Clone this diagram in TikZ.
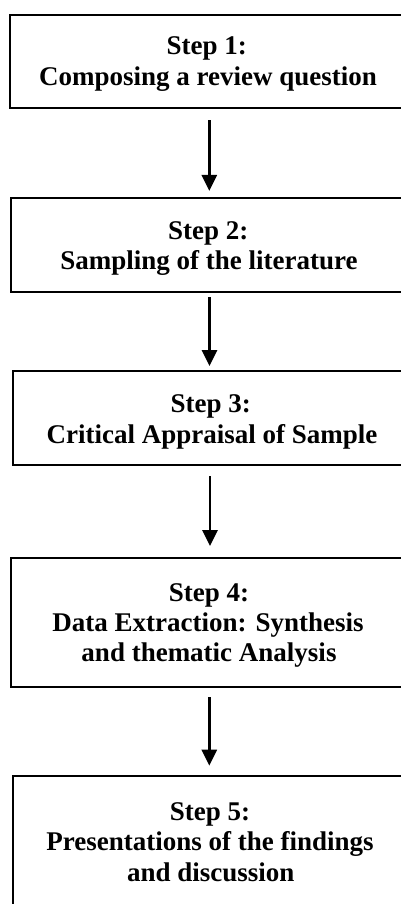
\documentclass[tikz,border=0pt]{standalone}
\usepackage{fontspec}
\setmainfont{Liberation Serif}
\usetikzlibrary{arrows.meta,calc}
\begin{document}
\begin{tikzpicture}[x=1pt,y=-1pt,
  stepbox/.style={draw=black,line width=2pt,rectangle,inner sep=0pt,outer sep=0pt},
  steptext/.style={anchor=base,inner sep=0pt,font=\fontsize{27}{31}\selectfont\bfseries},
  arr/.style={line width=2.8pt,-{Triangle[width=15pt,length=16pt]}}]
\useasboundingbox (0,0) rectangle (401,904);
\clip (0,0) rectangle (401,904);
% boxes (right edges lie outside the picture)
\node[stepbox,minimum width=428pt,minimum height=92.7pt] (s1) at (224,61.4) {};
\node[stepbox,minimum width=426.6pt,minimum height=94pt] (s2) at (224,245) {};
\node[stepbox,minimum width=421.4pt,minimum height=94pt] (s3) at (224,418) {};
\node[stepbox,minimum width=426pt,minimum height=129pt] (s4) at (224,622.5) {};
\node[stepbox,minimum width=422.6pt,minimum height=131pt] (s5) at (224,841.2) {};
% texts
\node[steptext] (t1a) at (206.8,54.3) {Step 1:};
\node[steptext] (t1b) at (208,86) {Composing a review question};
\node[steptext] (t2a) at (208.3,239.3) {Step 2:};
\node[steptext] (t2b) at (209,269.3) {Sampling of the literature};
\node[steptext] (t3a) at (210.8,412.7) {Step 3:};
\node[steptext] (t3b) at (212,443.3) {Critical Appraisal of Sample};
\node[steptext] (t4a) at (209,601.7) {Step 4:};
\node[steptext] (t4b) at (208,631.7) {Data Extraction: Synthesis};
\node[steptext] (t4c) at (209,661.7) {and thematic Analysis};
\node[steptext] (t5a) at (210,820) {Step 5:};
\node[steptext] (t5b) at (210,850.7) {Presentations of the findings};
\node[steptext] (t5c) at (210.8,881.7) {and discussion};
% arrows
\draw[arr] ($(s1.south)+(-14.7,12.3)$) -- ($(s2.north)+(-14.7,-7)$);
\draw[arr] ($(s2.south)+(-14.5,5)$) -- ($(s3.north)+(-14.5,-5)$);
\draw[arr] ($(s3.south)+(-14,11)$) -- ($(s4.north)+(-14,-12)$);
\draw[arr] ($(s4.south)+(-14.7,10)$) -- ($(s5.north)+(-14.7,-10)$);
\end{tikzpicture}
\end{document}
